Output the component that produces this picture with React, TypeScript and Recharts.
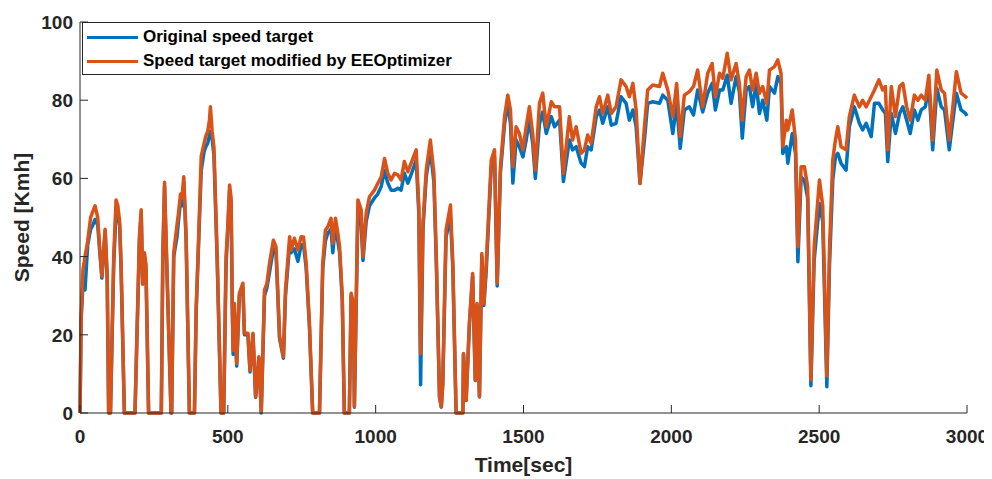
import React from "react";
import { LineChart, Line, XAxis, YAxis, Legend } from "recharts";

// drive cycle, one sample every few seconds
const timeSec = [
  0, 4, 10, 17, 26, 36, 43, 51, 60, 66, 74, 85, 92, 97, 103, 114, 122, 128, 134, 139,
  150, 186, 201, 207, 212, 218, 223, 232, 275, 280, 286, 291, 308, 310, 317, 328, 333, 340, 345, 351,
  359, 370, 387, 393, 400, 410, 420, 425, 432, 438, 441, 447, 453, 464, 477, 486, 494, 500, 506, 511,
  515, 518, 522, 530, 539, 551, 556, 568, 575, 585, 594, 605, 613, 624, 632, 641, 654, 663, 675, 688,
  695, 709, 714, 725, 737, 748, 756, 765, 776, 787, 810, 821, 830, 838, 849, 855, 864, 872, 878, 887,
  894, 911, 917, 925, 928, 940, 951, 957, 968, 979, 996, 1007, 1019, 1030, 1041, 1052, 1064, 1075, 1086, 1097,
  1109, 1120, 1137, 1146, 1152, 1160, 1171, 1185, 1197, 1205, 1216, 1222, 1227, 1238, 1253, 1261, 1272, 1295, 1297, 1306,
  1317, 1328, 1337, 1343, 1351, 1359, 1366, 1374, 1391, 1402, 1411, 1422, 1436, 1447, 1456, 1464, 1475, 1486, 1498, 1509,
  1520, 1531, 1540, 1554, 1565, 1577, 1594, 1605, 1622, 1635, 1655, 1666, 1678, 1695, 1706, 1717, 1729, 1746, 1757, 1768,
  1785, 1797, 1813, 1830, 1847, 1858, 1870, 1881, 1894, 1909, 1920, 1937, 1960, 1971, 1988, 2005, 2018, 2030, 2044, 2061,
  2075, 2089, 2106, 2123, 2138, 2149, 2163, 2174, 2189, 2202, 2219, 2230, 2240, 2253, 2264, 2275, 2287, 2298, 2309, 2323,
  2332, 2349, 2360, 2371, 2377, 2389, 2394, 2409, 2420, 2428, 2439, 2450, 2461, 2472, 2483, 2501, 2512, 2526, 2535, 2546,
  2555, 2563, 2574, 2591, 2602, 2619, 2636, 2647, 2659, 2676, 2687, 2702, 2715, 2724, 2732, 2744, 2758, 2772, 2783, 2796,
  2808, 2822, 2834, 2845, 2859, 2871, 2884, 2898, 2913, 2924, 2940, 2951, 2964, 2980, 2995, 3000,
];

const originalSpeed = [
  0, 24, 33, 31.5, 43, 47, 48, 49.5, 48, 42, 34.5, 46.5, 34, 0, 0, 38, 51.5, 51, 48, 37,
  0, 0, 44, 51, 33, 40, 37, 0, 0, 39, 58, 44, 0, 0, 40, 45, 49, 54, 53, 59,
  44, 0, 0, 26, 41, 62, 67, 68, 69, 71, 72, 70, 66, 39, 0, 0, 38, 47, 57, 54,
  27, 15, 27, 12, 30, 32, 20, 20, 10.5, 20, 4, 14, 0, 30, 32, 36, 42, 41, 19, 14,
  30, 43, 41, 42, 38.8, 43, 43, 37, 22, 0, 0, 37, 44, 46, 47, 41, 48, 44, 41, 29,
  0, 0, 30, 27, 1.5, 52, 48, 39, 49, 53, 55, 56, 58, 62, 58.8, 57, 57, 57.5, 57, 61.3,
  58.8, 61, 64.7, 51, 7.2, 47, 60.4, 67.3, 59, 39, 4, 1.5, 7.5, 45, 50.2, 37, 0, 0, 15, 3.2,
  22.5, 35, 8.3, 27.5, 4.1, 40, 27.5, 36.5, 63, 65.5, 32.5, 61.5, 74, 79.2, 74, 58.8, 69.8, 68.1, 65.5, 69.8,
  74.9, 69, 60, 74, 77, 71.5, 75.8, 73.2, 74.9, 59.2, 69.8, 67.3, 68.1, 63.9, 63, 68.1, 67.3, 75.8, 77.5, 74.1,
  78.3, 73.6, 74.1, 80.9, 79.2, 74.9, 77.5, 73.2, 58.7, 69.8, 79.2, 79.6, 79.2, 81.3, 80, 71.5, 79.2, 67.7, 77.5, 78.3,
  76.2, 82.6, 77, 81.8, 84.3, 77.5, 82.6, 82.6, 86.4, 79.2, 86, 82.2, 70.3, 82.6, 83.5, 78.3, 84.3, 76.6, 80, 74.9,
  83.5, 81.8, 86, 84.3, 66.4, 68.1, 63.9, 71.5, 66.4, 38.7, 60.4, 59.5, 55, 7, 39, 53.6, 49, 6.7, 38, 59.6,
  65.6, 66.4, 63.9, 62.1, 73.2, 78.3, 74.1, 72.4, 74.1, 70.7, 79.2, 79.2, 77.5, 76.6, 64.3, 76.6, 71.5, 76.6, 78.3, 74.9,
  71.5, 77.5, 74.9, 77.5, 78.3, 83.5, 67.3, 83, 78.3, 77.5, 67.3, 74.1, 81.8, 77.5, 76.6, 76,
];

const modifiedSpeed = [
  0, 25, 36.6, 40, 44, 50, 51.5, 53, 50, 43, 35, 47, 35, 0, 0, 40, 54.5, 53, 49, 38,
  0, 0, 45, 52, 33, 41, 38, 0, 0, 40, 59, 45, 0, 0, 41, 48, 51, 56, 55, 60.4,
  45, 0, 0, 27, 42, 65.6, 69, 70.7, 72, 75, 78.3, 72, 68, 40, 0, 0, 40, 48, 58.3, 55,
  28, 16, 28, 12.7, 30.6, 33.2, 20.4, 20.4, 11, 20.4, 4.2, 14.4, 0.3, 31.5, 33, 38.3, 44.2, 42.5, 19.5, 14.4,
  31.5, 45.1, 41.7, 44.7, 41.7, 45.1, 45, 38.3, 22.9, 0, 0, 38.3, 46.8, 47.6, 49.8, 43.4, 49.8, 46, 42.5, 29.8,
  0, 0, 30.6, 28, 1.7, 54.5, 52, 40, 51.2, 55.3, 57, 58.7, 60.4, 65.1, 61.3, 59.6, 61.3, 60.9, 59.6, 64.3,
  61.7, 63.9, 67.3, 52.8, 15.2, 48.5, 62.1, 69.8, 61.3, 40, 4.2, 1.6, 7.6, 46.8, 53.2, 38.3, 0, 0, 15.2, 3.3,
  22.9, 35.7, 8.4, 28, 4.2, 40.8, 28, 38.3, 64.7, 67.3, 33.2, 63, 75.8, 81.3, 77.5, 63, 73.2, 71.5, 67.3, 73.2,
  78.3, 71.5, 62.1, 79.2, 81.8, 73.2, 79.6, 78.3, 78.3, 61.3, 75.8, 69.8, 73.2, 66.4, 67.3, 71.1, 69, 78.3, 80.9, 76.6,
  81.3, 76.6, 78.3, 85.2, 83.5, 80.9, 84.3, 77.5, 58.7, 73.2, 82.6, 83.9, 83.5, 86.9, 82.6, 75.8, 84.3, 70.7, 81.3, 82.2,
  83.5, 87.7, 78.3, 86.9, 89.4, 80.9, 86.9, 85.6, 92, 85.2, 89.4, 84.3, 74.9, 86, 87.7, 82.6, 86.9, 81.8, 83.5, 79.2,
  87.7, 88.6, 90.3, 86.9, 68.1, 74.9, 72.4, 77.5, 69.8, 42.5, 63, 63, 58, 8.5, 42.5, 59.6, 53, 9.5, 42, 64.7,
  69.8, 73.2, 68.1, 67.3, 75.8, 81.3, 78.3, 80, 78.3, 80.9, 82.6, 85.2, 82.6, 83.5, 67.3, 83.5, 75.8, 83.5, 84.3, 78.3,
  74.9, 81.3, 80, 81.3, 80, 86.4, 69.8, 87.7, 82.6, 81.8, 69.8, 77.5, 87.3, 81.8, 80.9, 80.5,
];

const xTicks = [0, 500, 1000, 1500, 2000, 2500, 3000];
const yTicks = [0, 20, 40, 60, 80, 100];

const SERIES = [
  { key: "original", name: "Original speed target", color: "#0072BD" },
  { key: "modified", name: "Speed target modified by EEOptimizer", color: "#D95319" },
];

const data = timeSec.map((t, i) => ({
  t,
  original: originalSpeed[i],
  modified: modifiedSpeed[i],
}));

const FONT = '"Liberation Sans", Arial, Helvetica, sans-serif';
const AXIS = "#262626";
const TICK_LEN = 8;

const BottomTick = (props: any) => {
  const { x, y, payload } = props;
  return (
    <g>
      <line x1={x} x2={x} y1={y} y2={y - TICK_LEN} stroke={AXIS} />
      <text x={x} y={y + 30} textAnchor="middle" fill={AXIS} fontSize={19} fontWeight={700} fontFamily={FONT}>
        {payload.value}
      </text>
    </g>
  );
};

const TopTick = (props: any) => {
  const { x, y } = props;
  return <line x1={x} x2={x} y1={y} y2={y + TICK_LEN} stroke={AXIS} />;
};

const LeftTick = (props: any) => {
  const { x, y, payload } = props;
  return (
    <g>
      <line x1={x} x2={x + TICK_LEN} y1={y} y2={y} stroke={AXIS} />
      <text x={x - 7} y={y + 7} textAnchor="end" fill={AXIS} fontSize={19} fontWeight={700} fontFamily={FONT}>
        {payload.value}
      </text>
    </g>
  );
};

const RightTick = (props: any) => {
  const { x, y } = props;
  return <line x1={x} x2={x - TICK_LEN} y1={y} y2={y} stroke={AXIS} />;
};

const LegendBox = () => (
  <div
    style={{
      boxSizing: "border-box",
      width: 408,
      background: "#fff",
      border: `1px solid ${AXIS}`,
      padding: "2px 0 1px 4px",
      fontFamily: FONT,
      fontWeight: 700,
      fontSize: 17,
      color: "#000",
    }}
  >
    {SERIES.map((s) => (
      <div key={s.key} style={{ display: "flex", alignItems: "center", height: 24, whiteSpace: "nowrap" }}>
        <span style={{ display: "inline-block", width: 51, height: 3, background: s.color, marginRight: 5 }} />
        {s.name}
      </div>
    ))}
  </div>
);

export default function App() {
  return (
    <LineChart width={984} height={471} data={data} margin={{ top: 14, right: 25, left: 12, bottom: 36 }}>
      <XAxis
        dataKey="t"
        type="number"
        domain={[0, 3000]}
        ticks={xTicks}
        height={30}
        tickSize={0}
        tickMargin={0}
        tickLine={false}
        axisLine={{ stroke: AXIS }}
        tick={(p: any) => <BottomTick {...p} />}
        label={{
          value: "Time[sec]",
          position: "bottom",
          offset: 14,
          fill: AXIS,
          fontSize: 21,
          fontWeight: 700,
          fontFamily: FONT,
        }}
      />
      <XAxis
        xAxisId="top"
        orientation="top"
        type="number"
        domain={[0, 3000]}
        ticks={xTicks}
        height={0}
        tickSize={0}
        tickMargin={0}
        tickLine={false}
        axisLine={{ stroke: AXIS }}
        tick={(p: any) => <TopTick {...p} />}
      />
      <YAxis
        type="number"
        domain={[0, 100]}
        ticks={yTicks}
        width={60}
        tickSize={0}
        tickMargin={0}
        tickLine={false}
        axisLine={{ stroke: AXIS }}
        tick={(p: any) => <LeftTick {...p} />}
        label={{
          value: "Speed [Kmh]",
          angle: -90,
          position: "insideLeft",
          offset: 2,
          fill: AXIS,
          fontSize: 21,
          fontWeight: 700,
          fontFamily: FONT,
          style: { textAnchor: "middle" },
        }}
      />
      <YAxis
        yAxisId="right"
        orientation="right"
        type="number"
        domain={[0, 100]}
        ticks={yTicks}
        width={0}
        tickSize={0}
        tickMargin={0}
        tickLine={false}
        axisLine={{ stroke: AXIS }}
        tick={(p: any) => <RightTick {...p} />}
      />
      {SERIES.map((s) => (
        <Line
          key={s.key}
          dataKey={s.key}
          name={s.name}
          type="linear"
          stroke={s.color}
          strokeWidth={3.5}
          strokeLinejoin="round"
          dot={false}
          activeDot={false}
          isAnimationActive={false}
        />
      ))}
      <Legend
        layout="vertical"
        align="center"
        verticalAlign="middle"
        wrapperStyle={{ top: 14, left: 74, width: 408 }}
        content={() => <LegendBox />}
      />
    </LineChart>
  );
}
